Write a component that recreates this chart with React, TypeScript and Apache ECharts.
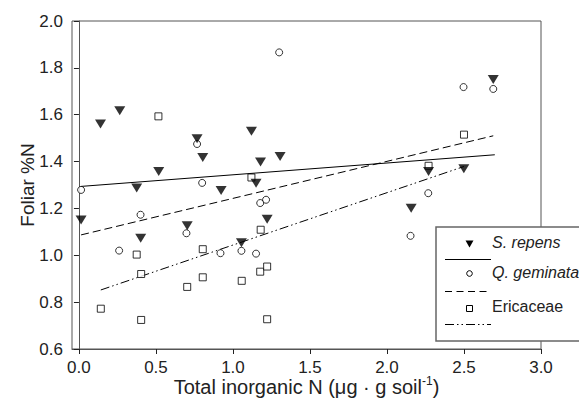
import React, { useEffect, useRef } from "react";
import * as echarts from "echarts";

// S. repens (filled down-triangles)
const repensPoints: number[][] = [
  [0.014, 1.151], [0.14, 1.56], [0.265, 1.617], [0.375, 1.287], [0.401, 1.073],
  [0.518, 1.358], [0.703, 1.126], [0.767, 1.497], [0.804, 1.417], [0.923, 1.277],
  [1.055, 1.054], [1.12, 1.529], [1.15, 1.308], [1.179, 1.398], [1.222, 1.154],
  [1.306, 1.422], [2.157, 1.201], [2.27, 1.358], [2.499, 1.369], [2.69, 1.75],
];
// Q. geminata (open circles)
const geminataPoints: number[][] = [
  [0.014, 1.279], [0.261, 1.02], [0.4, 1.173], [0.698, 1.094], [0.767, 1.475],
  [0.8, 1.309], [0.919, 1.009], [1.055, 1.019], [1.15, 1.007], [1.177, 1.223],
  [1.215, 1.237], [1.3, 1.866], [2.153, 1.083], [2.268, 1.265], [2.497, 1.718],
  [2.69, 1.71],
];
// Ericaceae (open squares)
const ericaceaePoints: number[][] = [
  [0.142, 0.772], [0.375, 1.003], [0.404, 0.92], [0.404, 0.724], [0.516, 1.593],
  [0.703, 0.865], [0.804, 1.026], [0.804, 0.906], [1.057, 0.891], [1.12, 1.332],
  [1.177, 0.93], [1.18, 1.109], [1.222, 0.952], [1.222, 0.727], [2.27, 1.382],
  [2.5, 1.515],
];
// Regression lines (end points)
const repensFit: number[][] = [[0.014, 1.294], [2.7, 1.429]];
const geminataFit: number[][] = [[0.014, 1.087], [2.69, 1.51]];
const ericaceaeFit: number[][] = [[0.142, 0.852], [2.5, 1.379]];

const xTicks = [0, 0.5, 1, 1.5, 2, 2.5, 3];
const legendNames = ["S. repens", "Q. geminata", "Ericaceae"];

const FONT = "Liberation Sans, Arial, Helvetica, sans-serif";
const TEXT = "#222";
const DASH = [8, 4];
const DASHDOT = [9, 3, 1.5, 3, 1.5, 3];

export default function App() {
  const ref = useRef<HTMLDivElement>(null);
  useEffect(() => {
    if (!ref.current) return;
    const chart = echarts.init(ref.current, undefined, { renderer: "svg" });
    const lx = 436, ly = 227;
    const option: any = {
      animation: false,
      backgroundColor: "#fff",
      textStyle: { fontFamily: FONT },
      grid: {
        left: 72, right: 38, top: 21, bottom: 61,
        show: true, borderColor: "#555", borderWidth: 1, backgroundColor: "transparent",
      },
      xAxis: {
        type: "value",
        min: -0.045,
        max: 3.0,
        splitLine: { show: false },
        axisLine: { show: true, lineStyle: { color: "#555", width: 1 } },
        axisTick: { show: true, length: 5, customValues: xTicks, lineStyle: { color: "#222" } },
        axisLabel: {
          customValues: xTicks,
          formatter: (v: number) => v.toFixed(1),
          fontSize: 17, color: TEXT, margin: 10, fontFamily: FONT,
        },
        name: "{a|Total inorganic N (μg · g soil}{s|-1}{a|)}",
        nameLocation: "middle",
        nameGap: 26,
        nameMoveOverlap: false,
        nameTextStyle: {
          fontFamily: FONT,
          rich: {
            a: { fontSize: 20, color: TEXT, fontFamily: FONT, lineHeight: 22, verticalAlign: "bottom" },
            s: { fontSize: 12, color: TEXT, fontFamily: FONT, lineHeight: 22, verticalAlign: "top", padding: [0, 0, 7, 0] },
          },
        },
      },
      yAxis: {
        type: "value",
        min: 0.6,
        max: 2.0,
        interval: 0.2,
        splitLine: { show: false },
        axisLine: { show: true, lineStyle: { color: "#555", width: 1 } },
        axisTick: { show: true, length: 5, lineStyle: { color: "#222" } },
        axisLabel: {
          formatter: (v: number) => v.toFixed(1),
          fontSize: 17, color: TEXT, margin: 9, fontFamily: FONT,
        },
        name: "Foliar %N",
        nameLocation: "middle",
        nameGap: 35,
        nameMoveOverlap: false,
        nameTextStyle: { fontSize: 19, color: TEXT, fontFamily: FONT },
      },
      series: [
        {
          name: legendNames[0], type: "scatter", data: repensPoints,
          symbol: "triangle", symbolRotate: 180, symbolSize: [11, 9],
          itemStyle: { color: "#000" }, z: 5,
        },
        {
          name: legendNames[1], type: "scatter", data: geminataPoints,
          symbol: "circle", symbolSize: 7,
          itemStyle: { color: "#fff", borderColor: "#000", borderWidth: 1 }, z: 4,
        },
        {
          name: legendNames[2], type: "scatter", data: ericaceaePoints,
          symbol: "rect", symbolSize: 7,
          itemStyle: { color: "#fff", borderColor: "#000", borderWidth: 1 }, z: 4,
        },
        {
          type: "line", data: repensFit, showSymbol: false, symbol: "none",
          lineStyle: { color: "#000", width: 1, type: "solid" }, z: 3,
        },
        {
          type: "line", data: geminataFit, showSymbol: false, symbol: "none",
          lineStyle: { color: "#000", width: 1, type: DASH }, z: 3,
        },
        {
          type: "line", data: ericaceaeFit, showSymbol: false, symbol: "none",
          lineStyle: { color: "#000", width: 1, type: DASHDOT }, z: 3,
        },
      ],
      graphic: [
        {
          type: "group", z: 100,
          children: [
            { type: "rect", shape: { x: lx, y: ly, width: 150, height: 114 },
              style: { fill: "#fff", stroke: "#666", lineWidth: 1.5 } },
            { type: "polygon", shape: { points: [[lx + 29.5, ly + 13.5], [lx + 37.5, ly + 13.5], [lx + 33.5, ly + 20.5]] },
              style: { fill: "#000" } },
            { type: "text", x: lx + 56, y: ly + 15, style: { text: legendNames[0], font: `italic 16px ${FONT}`, fill: TEXT, verticalAlign: "middle" } },
            { type: "line", shape: { x1: lx + 9, y1: ly + 32.5, x2: lx + 55, y2: ly + 32.5 }, style: { stroke: "#000", lineWidth: 1 } },
            { type: "circle", shape: { cx: lx + 33.5, cy: ly + 46.5, r: 2.8 }, style: { fill: "#fff", stroke: "#000", lineWidth: 1 } },
            { type: "text", x: lx + 56, y: ly + 45, style: { text: legendNames[1], font: `italic 16px ${FONT}`, fill: TEXT, verticalAlign: "middle" } },
            { type: "line", shape: { x1: lx + 9, y1: ly + 64.5, x2: lx + 55, y2: ly + 64.5 }, style: { stroke: "#000", lineWidth: 1, lineDash: [7, 4.5] } },
            { type: "rect", shape: { x: lx + 30.5, y: ly + 78.5, width: 6, height: 6 }, style: { fill: "#fff", stroke: "#000", lineWidth: 1 } },
            { type: "text", x: lx + 56, y: ly + 79, style: { text: legendNames[2], font: `16px ${FONT}`, fill: TEXT, verticalAlign: "middle" } },
            { type: "line", shape: { x1: lx + 9, y1: ly + 97.5, x2: lx + 55, y2: ly + 97.5 }, style: { stroke: "#000", lineWidth: 1, lineDash: DASHDOT } },
          ],
        },
      ],
    };
    chart.setOption(option);
    return () => chart.dispose();
  }, []);
  return <div ref={ref} style={{ width: 579, height: 410, position: "absolute", left: 0, top: 0 }} />;
}
